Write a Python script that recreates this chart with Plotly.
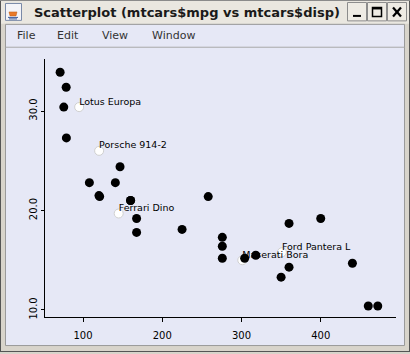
import plotly.graph_objects as go

# ---- data (mtcars: disp vs mpg) ----
cars = ["Mazda RX4", "Mazda RX4 Wag", "Datsun 710", "Hornet 4 Drive", "Hornet Sportabout",
        "Valiant", "Duster 360", "Merc 240D", "Merc 230", "Merc 280", "Merc 280C",
        "Merc 450SE", "Merc 450SL", "Merc 450SLC", "Cadillac Fleetwood",
        "Lincoln Continental", "Chrysler Imperial", "Fiat 128", "Honda Civic",
        "Toyota Corolla", "Toyota Corona", "Dodge Challenger", "AMC Javelin",
        "Camaro Z28", "Pontiac Firebird", "Fiat X1-9", "Porsche 914-2", "Lotus Europa",
        "Ford Pantera L", "Ferrari Dino", "Maserati Bora", "Volvo 142E"]
mpg = [21.0, 21.0, 22.8, 21.4, 18.7, 18.1, 14.3, 24.4, 22.8, 19.2, 17.8, 16.4, 17.3, 15.2,
       10.4, 10.4, 14.7, 32.4, 30.4, 33.9, 21.5, 15.5, 15.2, 13.3, 19.2, 27.3, 26.0, 30.4,
       15.8, 19.7, 15.0, 21.4]
disp = [160, 160, 108, 258, 360, 225, 360, 146.7, 140.8, 167.6, 167.6, 275.8, 275.8, 275.8,
        472, 460, 440, 78.7, 75.7, 71.1, 120.1, 318, 304, 350, 400, 79, 120.3, 95.1,
        351, 145, 301, 121]
labeled = ["Lotus Europa", "Porsche 914-2", "Ferrari Dino", "Maserati Bora", "Ford Pantera L"]

x_ticks = [100, 200, 300, 400]
x_ticktext = ["100", "200", "300", "400"]
y_ticks = [10, 20, 30]
y_ticktext = ["10.0", "20.0", "30.0"]

title_text = "Scatterplot (mtcars$mpg vs mtcars$disp)"
menu_items = ["File", "Edit", "View", "Window"]

W, H = 410, 354
FONT = "DejaVu Sans"
LAV = "#E6E8F6"
FRAME = "#D8D4CB"
TITLEBG = "#EAE7E0"


def px(x):
    return x / W


def py(y):
    return 1 - y / H


lab_x = [d for d, c in zip(disp, cars) if c in labeled]
lab_y = [m for m, c in zip(mpg, cars) if c in labeled]
lab_t = [c for c in cars if c in labeled]
blk_x = [d for d, c in zip(disp, cars) if c not in labeled]
blk_y = [m for m, c in zip(mpg, cars) if c not in labeled]

fig = go.Figure()
fig.add_trace(go.Scatter(x=lab_x, y=lab_y, mode="markers",
                         marker=dict(size=9, color="white", line=dict(color="#D0D0D0", width=1)),
                         hoverinfo="skip", showlegend=False))
fig.add_trace(go.Scatter(x=lab_x, y=lab_y, mode="text", text=lab_t, textposition="top right",
                         textfont=dict(family=FONT, size=9.5, color="black"),
                         hoverinfo="skip", showlegend=False))
fig.add_trace(go.Scatter(x=blk_x, y=blk_y, mode="markers",
                         marker=dict(size=9, color="black", line=dict(width=0)),
                         hoverinfo="skip", showlegend=False))

shapes = []


def rect(x0, y0, x1, y1, fill, line=None, lw=0, layer="below"):
    shapes.append(dict(type="rect", xref="paper", yref="paper",
                       x0=px(x0), x1=px(x1), y0=py(y1), y1=py(y0),
                       fillcolor=fill, line=dict(color=line or fill, width=lw), layer=layer))


def hline(x0, x1, y, color, lw=1, layer="below"):
    shapes.append(dict(type="line", xref="paper", yref="paper",
                       x0=px(x0), x1=px(x1), y0=py(y), y1=py(y),
                       line=dict(color=color, width=lw), layer=layer))


def vline(x, y0, y1, color, lw=1, layer="below"):
    shapes.append(dict(type="line", xref="paper", yref="paper",
                       x0=px(x), x1=px(x), y0=py(y0), y1=py(y1),
                       line=dict(color=color, width=lw), layer=layer))


# title bar
rect(0, 0, 410, 24, TITLEBG)
# content panel (menu + plot)
rect(5.5, 24.5, 404.5, 347.5, LAV, "#9A9A9A", 1)
hline(5.5, 404.5, 47.5, "#A8A8A8")
# outer dark border
vline(0.5, 0, 354, "#555555")
vline(409.5, 0, 354, "#555555")
hline(0, 410, 353.5, "#555555")
hline(0, 410, 0.5, "#8A8A8A")

# java icon
rect(5.5, 3.5, 21.5, 20.5, "#F4F4F8", "#7A8AA8", 1, layer="above")
shapes.append(dict(type="path", xref="paper", yref="paper", layer="above",
                   path="M %f %f L %f %f L %f %f L %f %f Z" % (px(9), py(12), px(17), py(12), px(16), py(16), px(10), py(16)),
                   fillcolor="#E87A2A", line=dict(color="#C05A10", width=0.5)))
hline(8, 18, 17.5, "#3A5A9A", 1, layer="above")
hline(9, 17, 19, "#3A5A9A", 1, layer="above")

# window buttons
for bx0, bx1 in [(347.5, 366.5), (367.5, 386.5), (387.5, 406.5)]:
    shapes.append(dict(type="rect", xref="paper", yref="paper", layer="above",
                       x0=px(bx0), x1=px(bx1), y0=py(21), y1=py(2.5),
                       fillcolor="#EEEBE4", line=dict(color="#8C8C8C", width=1)))
# minimize glyph
rect(353, 15, 361, 17, "black", layer="above")
# maximize glyph
shapes.append(dict(type="rect", xref="paper", yref="paper", layer="above",
                   x0=px(372.5), x1=px(381.5), y0=py(16.5), y1=py(7.5),
                   fillcolor="rgba(0,0,0,0)", line=dict(color="black", width=1.5)))
hline(372.5, 381.5, 8.5, "black", 2, layer="above")
# close glyph
shapes.append(dict(type="line", xref="paper", yref="paper", layer="above",
                   x0=px(393), x1=px(401), y0=py(7.5), y1=py(16.5), line=dict(color="black", width=2.2)))
shapes.append(dict(type="line", xref="paper", yref="paper", layer="above",
                   x0=px(393), x1=px(401), y0=py(16.5), y1=py(7.5), line=dict(color="black", width=2.2)))

annotations = [
    dict(text="<b>" + title_text + "</b>", xref="paper", yref="paper", x=px(32), y=py(12.5),
         xanchor="left", yanchor="middle", showarrow=False,
         font=dict(family=FONT, size=13, color="#1A1A1A")),
]
for t, xp in zip(menu_items, [15, 55, 100, 150]):
    annotations.append(dict(text=t, xref="paper", yref="paper", x=px(xp), y=py(36),
                            xanchor="left", yanchor="middle", showarrow=False,
                            font=dict(family=FONT, size=11, color="#333333")))

fig.update_layout(
    width=W, height=H, margin=dict(l=0, r=0, t=0, b=0), autosize=False,
    paper_bgcolor=FRAME, plot_bgcolor=LAV,
    shapes=shapes, annotations=annotations,
    xaxis=dict(domain=[px(45), px(396)], range=[52.0, 495.0], showline=True, linecolor="black",
               linewidth=1, ticks="outside", ticklen=4, tickcolor="black", tickvals=x_ticks,
               ticktext=x_ticktext, showgrid=False, zeroline=False, ticklabelstandoff=5,
               tickfont=dict(family=FONT, size=10, color="black")),
    yaxis=dict(domain=[py(319), py(59)], range=[9.27, 35.27], showline=True, linecolor="black",
               linewidth=1, ticks="outside", ticklen=3, tickcolor="black", tickvals=y_ticks,
               ticktext=y_ticktext, tickangle=-90, showgrid=False, zeroline=False,
               tickfont=dict(family=FONT, size=10, color="black")),
    showlegend=False,
)

fig.write_html("out.html")
